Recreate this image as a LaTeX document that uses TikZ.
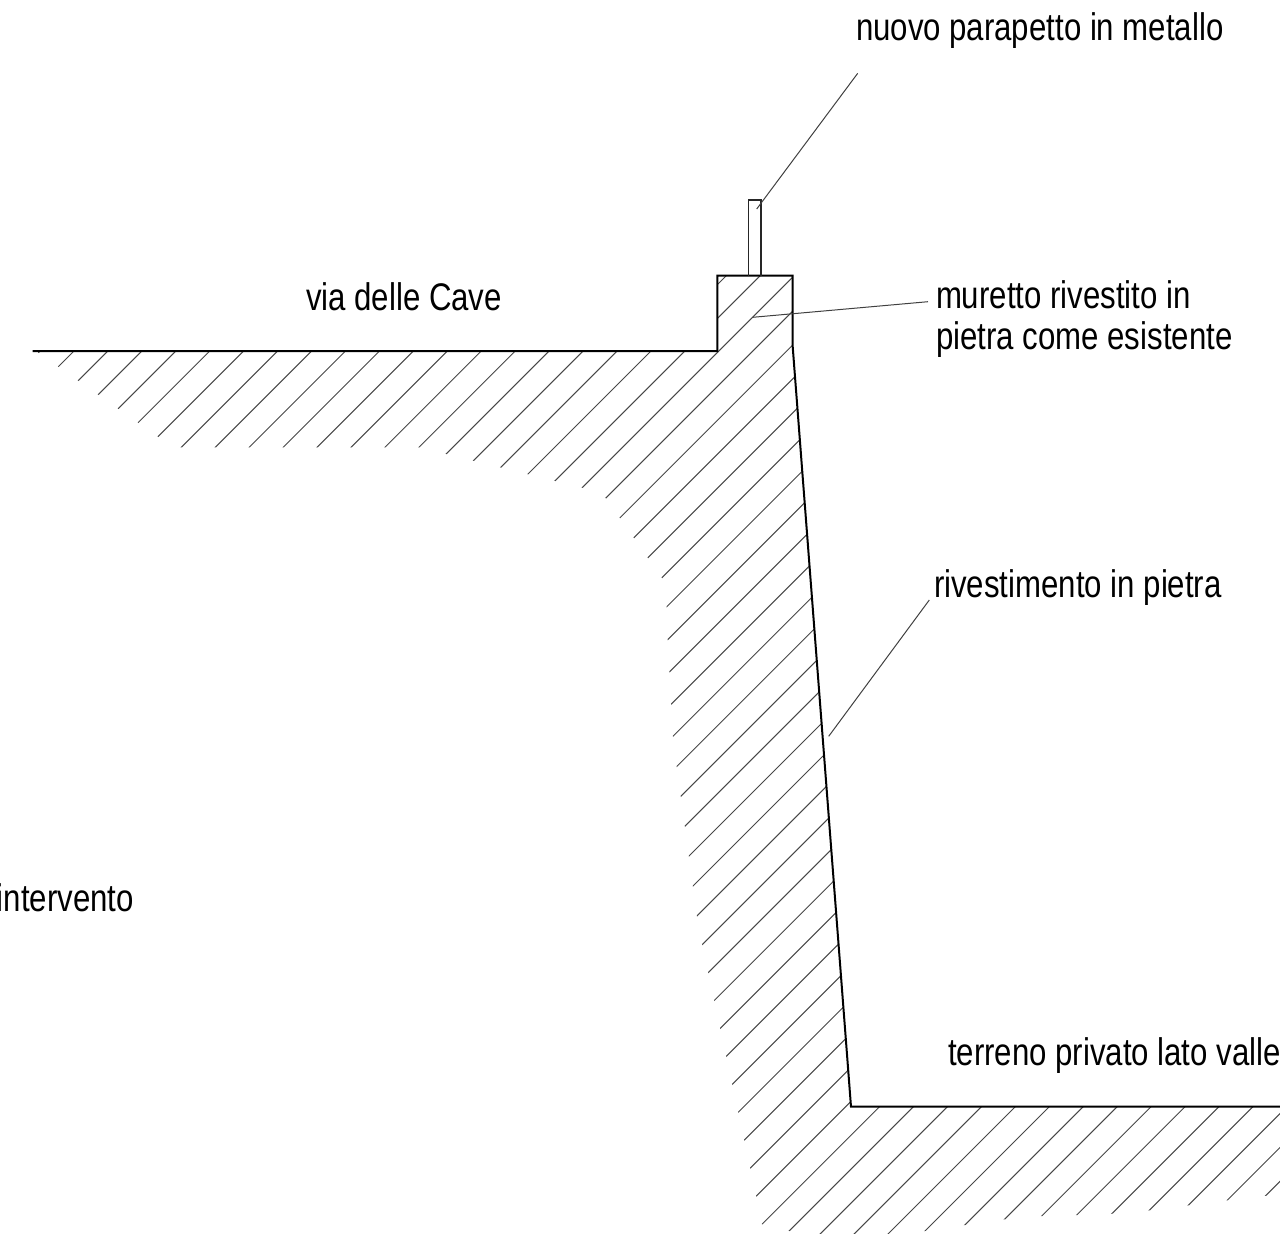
\documentclass[tikz,border=0pt]{standalone}
\usepackage{fontspec}
\setmainfont[FakeStretch=0.81]{Liberation Sans}
\tikzset{
  outline/.style={line width=2pt,black,line join=miter},
  thinbox/.style={line width=1.8pt,black!85},
  hatchline/.style={line width=1pt,black!72},
  leader/.style={line width=1pt,black!75},
  lbl/.style={anchor=base west,inner sep=0pt,outer sep=0pt,font=\fontsize{38.5}{39}\selectfont,text=black},
}
\begin{document}
\begin{tikzpicture}[x=1pt,y=-1pt]
\useasboundingbox (0,0) rectangle (1280,1234);
\clip (0,0) rectangle (1280,1234);
% hatching
\begin{scope}
\clip (36,351) -- (717.3,351) -- (717.3,275.7) -- (792.7,275.7) -- (792.7,346.7) -- (851,1106.7) -- (1280,1106.7) -- (1280,1194)
 -- (1266.3,1195.7) -- (1227.3,1200.3) -- (1188.7,1205.3) -- (1150.3,1210.3) -- (1112.7,1213.7) -- (1077,1215) -- (1042.3,1216) -- (1005,1219.3) -- (965.3,1225) -- (925,1231) -- (888.3,1234) -- (820.3,1234) -- (789.3,1231) -- (761.9,1224.3)
 -- (756.3,1196.3) -- (702.3,945) -- (697,916.3) -- (676.7,766.7) -- (673,736.7) -- (667.7,639.3) -- (666.7,607.3) -- (662,578) -- (606,498.3) -- (582.3,487.7) -- (419,447.3) -- (173,447.3) -- (158,436.7) -- cycle;
\foreach \k in {-1,...,62}{
  \pgfmathsetmacro{\c}{425+33.94*\k}
  \draw[hatchline] (\c-260,260) -- (\c-1240,1240);
}
\end{scope}
% ground profile
\draw[outline] (32.5,351) -- (717.3,351) -- (717.3,275.7) -- (792.7,275.7) -- (792.7,346.7) -- (851,1106.7) -- (1280,1106.7);
% railing
\draw[thinbox] (748.5,275.7) -- (748.5,200) -- (761.3,200) -- (761.3,275.7);
% labels
\node[lbl] (parapetto) at (856,40) {nuovo parapetto in metallo};
\node[lbl] (via) at (306,310) {via delle Cave};
\node[lbl] (muretto) at (936,308) {muretto rivestito in};
\node[lbl] (pietra) at (936,349) {pietra come esistente};
\node[lbl] (rivest) at (934,597) {rivestimento in pietra};
\node[lbl] (interv) at (-3,911) {intervento};
\node[lbl] (terreno) at (948,1065) {terreno privato lato valle};
% leaders
\coordinate (la1) at (857.7,73.3);
\coordinate (lb1) at (756.7,209);
\coordinate (la2) at (928,301.7);
\coordinate (lb2) at (752.7,317.3);
\coordinate (la3) at (929.3,600);
\coordinate (lb3) at (828.7,736.3);
\draw[leader] (la1) -- (lb1);
\draw[leader] (la2) -- (lb2);
\draw[leader] (la3) -- (lb3);
\end{tikzpicture}
\end{document}
